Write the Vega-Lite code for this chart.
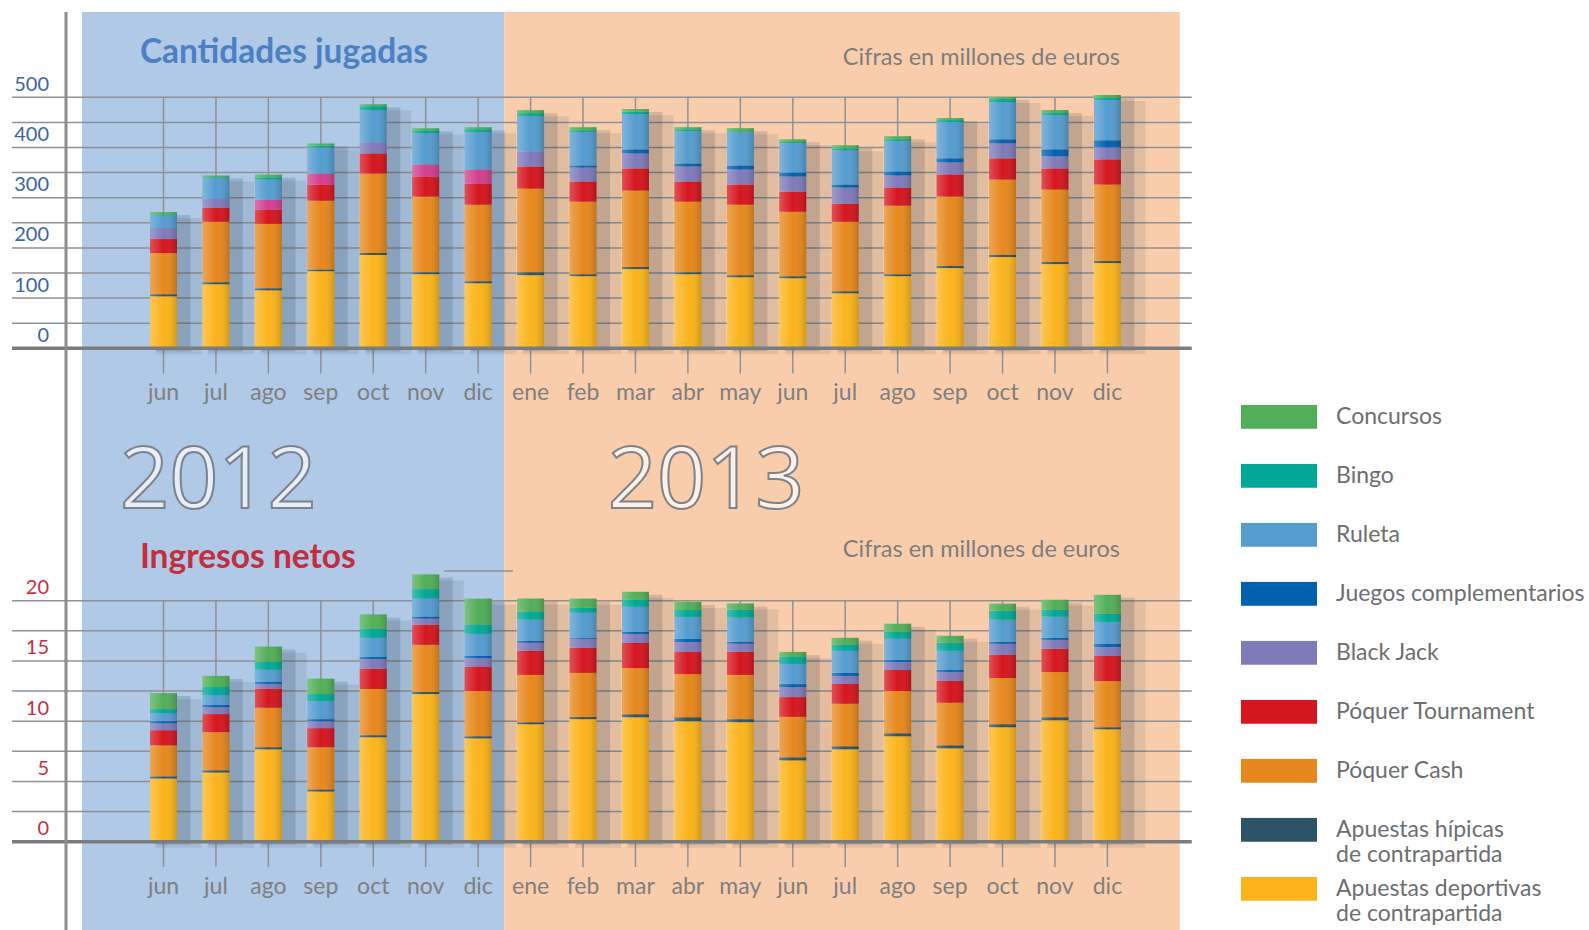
{
  "$schema": "https://vega.github.io/schema/vega-lite/v6.json",
  "width": 1589,
  "height": 930,
  "autosize": {"type": "none"},
  "padding": 0,
  "background": "white",
  "config": {"view": {"stroke": null}, "font": "Lato"},
  "datasets": {
    "series": [
      {"serie": "Apuestas deportivas de contrapartida", "orden": 1},
      {"serie": "Apuestas hípicas de contrapartida", "orden": 2},
      {"serie": "Póquer Cash", "orden": 3},
      {"serie": "Póquer Tournament", "orden": 4},
      {"serie": "Black Jack", "orden": 5},
      {"serie": "Otros", "orden": 6},
      {"serie": "Juegos complementarios", "orden": 7},
      {"serie": "Ruleta", "orden": 8},
      {"serie": "Bingo", "orden": 9},
      {"serie": "Concursos", "orden": 10}
    ],
    "jugadas": [
      {"i": 0, "mes": "jun", "Apuestas deportivas de contrapartida": 103.6, "Apuestas hípicas de contrapartida": 4, "Póquer Cash": 82, "Póquer Tournament": 28, "Black Jack": 22, "Otros": 0, "Juegos complementarios": 0, "Ruleta": 25, "Bingo": 2, "Concursos": 4.7},
      {"i": 1, "mes": "jul", "Apuestas deportivas de contrapartida": 127.7, "Apuestas hípicas de contrapartida": 4, "Póquer Cash": 120.3, "Póquer Tournament": 28, "Black Jack": 18, "Otros": 0, "Juegos complementarios": 0, "Ruleta": 40.8, "Bingo": 2, "Concursos": 3.3},
      {"i": 2, "mes": "ago", "Apuestas deportivas de contrapartida": 115.6, "Apuestas hípicas de contrapartida": 4, "Póquer Cash": 128.3, "Póquer Tournament": 28, "Black Jack": 0, "Otros": 20, "Juegos complementarios": 0, "Ruleta": 40, "Bingo": 4.7, "Concursos": 5.3},
      {"i": 3, "mes": "sep", "Apuestas deportivas de contrapartida": 153.7, "Apuestas hípicas de contrapartida": 3.3, "Póquer Cash": 137, "Póquer Tournament": 32, "Black Jack": 0, "Otros": 22, "Juegos complementarios": 0, "Ruleta": 52, "Bingo": 4, "Concursos": 4},
      {"i": 4, "mes": "oct", "Apuestas deportivas de contrapartida": 185.8, "Apuestas hípicas de contrapartida": 4, "Póquer Cash": 158.4, "Póquer Tournament": 40, "Black Jack": 22, "Otros": 0, "Juegos complementarios": 0, "Ruleta": 64, "Bingo": 8, "Concursos": 4},
      {"i": 5, "mes": "nov", "Apuestas deportivas de contrapartida": 147.7, "Apuestas hípicas de contrapartida": 4, "Póquer Cash": 150.4, "Póquer Tournament": 40, "Black Jack": 0, "Otros": 24, "Juegos complementarios": 0, "Ruleta": 62.2, "Bingo": 6, "Concursos": 4},
      {"i": 6, "mes": "dic", "Apuestas deportivas de contrapartida": 129.7, "Apuestas hípicas de contrapartida": 4, "Póquer Cash": 152.4, "Póquer Tournament": 42.1, "Black Jack": 0, "Otros": 28, "Juegos complementarios": 0, "Ruleta": 74.2, "Bingo": 6, "Concursos": 4},
      {"i": 7, "mes": "ene", "Apuestas deportivas de contrapartida": 145.7, "Apuestas hípicas de contrapartida": 6, "Póquer Cash": 166.4, "Póquer Tournament": 44.1, "Black Jack": 30, "Otros": 0, "Juegos complementarios": 0, "Ruleta": 70.2, "Bingo": 6, "Concursos": 6},
      {"i": 8, "mes": "feb", "Apuestas deportivas de contrapartida": 143.7, "Apuestas hípicas de contrapartida": 4, "Póquer Cash": 144.4, "Póquer Tournament": 40.1, "Black Jack": 28, "Otros": 0, "Juegos complementarios": 4, "Ruleta": 66.2, "Bingo": 4, "Concursos": 6},
      {"i": 9, "mes": "mar", "Apuestas deportivas de contrapartida": 157.8, "Apuestas hípicas de contrapartida": 4, "Póquer Cash": 152.4, "Póquer Tournament": 44.1, "Black Jack": 30, "Otros": 0, "Juegos complementarios": 8, "Ruleta": 70.2, "Bingo": 4.7, "Concursos": 5.3},
      {"i": 10, "mes": "abr", "Apuestas deportivas de contrapartida": 147.7, "Apuestas hípicas de contrapartida": 4, "Póquer Cash": 140.4, "Póquer Tournament": 40.1, "Black Jack": 30, "Otros": 0, "Juegos complementarios": 6, "Ruleta": 64.2, "Bingo": 4, "Concursos": 4},
      {"i": 11, "mes": "may", "Apuestas deportivas de contrapartida": 141.7, "Apuestas hípicas de contrapartida": 4, "Póquer Cash": 140.4, "Póquer Tournament": 40.1, "Black Jack": 30, "Otros": 0, "Juegos complementarios": 8, "Ruleta": 66.2, "Bingo": 2, "Concursos": 6},
      {"i": 12, "mes": "jun", "Apuestas deportivas de contrapartida": 139.7, "Apuestas hípicas de contrapartida": 4, "Póquer Cash": 128.3, "Póquer Tournament": 40.1, "Black Jack": 30, "Otros": 0, "Juegos complementarios": 8, "Ruleta": 58.2, "Bingo": 2.7, "Concursos": 5.3},
      {"i": 13, "mes": "jul", "Apuestas deportivas de contrapartida": 109.6, "Apuestas hípicas de contrapartida": 4, "Póquer Cash": 138.4, "Póquer Tournament": 36.1, "Black Jack": 32.1, "Otros": 0, "Juegos complementarios": 6, "Ruleta": 68.2, "Bingo": 4, "Concursos": 6},
      {"i": 14, "mes": "ago", "Apuestas deportivas de contrapartida": 143.7, "Apuestas hípicas de contrapartida": 4, "Póquer Cash": 136.4, "Póquer Tournament": 36.1, "Black Jack": 24.1, "Otros": 0, "Juegos complementarios": 8, "Ruleta": 60.2, "Bingo": 4, "Concursos": 6},
      {"i": 15, "mes": "sep", "Apuestas deportivas de contrapartida": 159.8, "Apuestas hípicas de contrapartida": 4, "Póquer Cash": 138.4, "Póquer Tournament": 44.1, "Black Jack": 24.1, "Otros": 0, "Juegos complementarios": 8, "Ruleta": 72.2, "Bingo": 4, "Concursos": 4},
      {"i": 16, "mes": "oct", "Apuestas deportivas de contrapartida": 181.8, "Apuestas hípicas de contrapartida": 4, "Póquer Cash": 150.4, "Póquer Tournament": 42.1, "Black Jack": 30, "Otros": 0, "Juegos complementarios": 8, "Ruleta": 74.2, "Bingo": 6, "Concursos": 4},
      {"i": 17, "mes": "nov", "Apuestas deportivas de contrapartida": 167.8, "Apuestas hípicas de contrapartida": 4, "Póquer Cash": 144.4, "Póquer Tournament": 42.1, "Black Jack": 24.1, "Otros": 0, "Juegos complementarios": 14, "Ruleta": 68.2, "Bingo": 4, "Concursos": 6},
      {"i": 18, "mes": "dic", "Apuestas deportivas de contrapartida": 169.8, "Apuestas hípicas de contrapartida": 4, "Póquer Cash": 152.4, "Póquer Tournament": 50.1, "Black Jack": 24.1, "Otros": 0, "Juegos complementarios": 14, "Ruleta": 80.2, "Bingo": 4, "Concursos": 6}
    ],
    "ingresos": [
      {"i": 0, "mes": "jun", "Apuestas deportivas de contrapartida": 5.25, "Apuestas hípicas de contrapartida": 0.17, "Póquer Cash": 2.58, "Póquer Tournament": 1.25, "Black Jack": 0.58, "Juegos complementarios": 0.17, "Ruleta": 0.67, "Bingo": 0.33, "Concursos": 1.33},
      {"i": 1, "mes": "jul", "Apuestas deportivas de contrapartida": 5.75, "Apuestas hípicas de contrapartida": 0.17, "Póquer Cash": 3.17, "Póquer Tournament": 1.5, "Black Jack": 0.58, "Juegos complementarios": 0.17, "Ruleta": 0.83, "Bingo": 0.67, "Concursos": 0.92},
      {"i": 2, "mes": "ago", "Apuestas deportivas de contrapartida": 7.67, "Apuestas hípicas de contrapartida": 0.17, "Póquer Cash": 3.28, "Póquer Tournament": 1.56, "Black Jack": 0.42, "Juegos complementarios": 0.17, "Ruleta": 1.0, "Bingo": 0.67, "Concursos": 1.25},
      {"i": 3, "mes": "sep", "Apuestas deportivas de contrapartida": 4.17, "Apuestas hípicas de contrapartida": 0.17, "Póquer Cash": 3.5, "Póquer Tournament": 1.58, "Black Jack": 0.58, "Juegos complementarios": 0.17, "Ruleta": 1.5, "Bingo": 0.58, "Concursos": 1.28},
      {"i": 4, "mes": "oct", "Apuestas deportivas de contrapartida": 8.67, "Apuestas hípicas de contrapartida": 0.17, "Póquer Cash": 3.83, "Póquer Tournament": 1.67, "Black Jack": 0.83, "Juegos complementarios": 0.17, "Ruleta": 1.58, "Bingo": 0.75, "Concursos": 1.19},
      {"i": 5, "mes": "nov", "Apuestas deportivas de contrapartida": 12.25, "Apuestas hípicas de contrapartida": 0.17, "Póquer Cash": 3.92, "Póquer Tournament": 1.67, "Black Jack": 0.5, "Juegos complementarios": 0.17, "Ruleta": 1.5, "Bingo": 0.78, "Concursos": 1.22},
      {"i": 6, "mes": "dic", "Apuestas deportivas de contrapartida": 8.58, "Apuestas hípicas de contrapartida": 0.17, "Póquer Cash": 3.75, "Póquer Tournament": 2.03, "Black Jack": 0.72, "Juegos complementarios": 0.17, "Ruleta": 1.83, "Bingo": 0.75, "Concursos": 2.17},
      {"i": 7, "mes": "ene", "Apuestas deportivas de contrapartida": 9.75, "Apuestas hípicas de contrapartida": 0.17, "Póquer Cash": 3.92, "Póquer Tournament": 2.0, "Black Jack": 0.67, "Juegos complementarios": 0.17, "Ruleta": 1.75, "Bingo": 0.67, "Concursos": 1.08},
      {"i": 8, "mes": "feb", "Apuestas deportivas de contrapartida": 10.17, "Apuestas hípicas de contrapartida": 0.17, "Póquer Cash": 3.67, "Póquer Tournament": 2.08, "Black Jack": 0.75, "Juegos complementarios": 0.08, "Ruleta": 2.08, "Bingo": 0.42, "Concursos": 0.75},
      {"i": 9, "mes": "mar", "Apuestas deportivas de contrapartida": 10.33, "Apuestas hípicas de contrapartida": 0.25, "Póquer Cash": 3.83, "Póquer Tournament": 2.08, "Black Jack": 0.75, "Juegos complementarios": 0.17, "Ruleta": 2.08, "Bingo": 0.58, "Concursos": 0.67},
      {"i": 10, "mes": "abr", "Apuestas deportivas de contrapartida": 10.0, "Apuestas hípicas de contrapartida": 0.33, "Póquer Cash": 3.58, "Póquer Tournament": 1.83, "Black Jack": 0.83, "Juegos complementarios": 0.25, "Ruleta": 1.83, "Bingo": 0.58, "Concursos": 0.67},
      {"i": 11, "mes": "may", "Apuestas deportivas de contrapartida": 9.92, "Apuestas hípicas de contrapartida": 0.25, "Póquer Cash": 3.67, "Póquer Tournament": 1.92, "Black Jack": 0.67, "Juegos complementarios": 0.17, "Ruleta": 2.0, "Bingo": 0.67, "Concursos": 0.5},
      {"i": 12, "mes": "jun", "Apuestas deportivas de contrapartida": 6.75, "Apuestas hípicas de contrapartida": 0.25, "Póquer Cash": 3.36, "Póquer Tournament": 1.64, "Black Jack": 0.83, "Juegos complementarios": 0.25, "Ruleta": 1.67, "Bingo": 0.58, "Concursos": 0.42},
      {"i": 13, "mes": "jul", "Apuestas deportivas de contrapartida": 7.67, "Apuestas hípicas de contrapartida": 0.25, "Póquer Cash": 3.53, "Póquer Tournament": 1.64, "Black Jack": 0.67, "Juegos complementarios": 0.25, "Ruleta": 1.83, "Bingo": 0.5, "Concursos": 0.58},
      {"i": 14, "mes": "ago", "Apuestas deportivas de contrapartida": 8.75, "Apuestas hípicas de contrapartida": 0.25, "Póquer Cash": 3.5, "Póquer Tournament": 1.75, "Black Jack": 0.67, "Juegos complementarios": 0.17, "Ruleta": 1.75, "Bingo": 0.58, "Concursos": 0.67},
      {"i": 15, "mes": "sep", "Apuestas deportivas de contrapartida": 7.75, "Apuestas hípicas de contrapartida": 0.25, "Póquer Cash": 3.53, "Póquer Tournament": 1.81, "Black Jack": 0.75, "Juegos complementarios": 0.17, "Ruleta": 1.58, "Bingo": 0.67, "Concursos": 0.58},
      {"i": 16, "mes": "oct", "Apuestas deportivas de contrapartida": 9.5, "Apuestas hípicas de contrapartida": 0.25, "Póquer Cash": 3.83, "Póquer Tournament": 1.92, "Black Jack": 0.92, "Juegos complementarios": 0.17, "Ruleta": 1.83, "Bingo": 0.75, "Concursos": 0.58},
      {"i": 17, "mes": "nov", "Apuestas deportivas de contrapartida": 10.08, "Apuestas hípicas de contrapartida": 0.25, "Póquer Cash": 3.75, "Póquer Tournament": 1.92, "Black Jack": 0.75, "Juegos complementarios": 0.17, "Ruleta": 1.75, "Bingo": 0.58, "Concursos": 0.83},
      {"i": 18, "mes": "dic", "Apuestas deportivas de contrapartida": 9.33, "Apuestas hípicas de contrapartida": 0.17, "Póquer Cash": 3.83, "Póquer Tournament": 2.08, "Black Jack": 0.75, "Juegos complementarios": 0.25, "Ruleta": 1.83, "Bingo": 0.67, "Concursos": 1.58}
    ],
    "gridSup": [{"v": 50}, {"v": 100}, {"v": 150}, {"v": 200}, {"v": 250}, {"v": 300}, {"v": 350}, {"v": 400}, {"v": 450}, {"v": 500}],
    "etiqSup": [{"v": 0}, {"v": 100}, {"v": 200}, {"v": 300}, {"v": 400}, {"v": 500}],
    "gridInf": [{"v": 2.5}, {"v": 5}, {"v": 7.5}, {"v": 10}, {"v": 12.5}, {"v": 15}, {"v": 17.5}, {"v": 20}],
    "etiqInf": [{"v": 0}, {"v": 5}, {"v": 10}, {"v": 15}, {"v": 20}]
  },
  "resolve": {"scale": {"y": "independent"}},
  "layer": [
    {
      "layer": [
        {
          "data": {"values": [{}]},
          "mark": {"type": "rect", "color": "#afc9e7"},
          "encoding": {
            "x": {"datum": -1.555, "type": "quantitative", "scale": {"domain": [-3.1178, 27.1834], "nice": false, "zero": false, "padding": 0}, "axis": null},
            "x2": {"datum": 6.5},
            "y": {"datum": 669.9, "type": "quantitative", "scale": {"domain": [-1158.76, 693.82], "nice": false, "zero": false}, "axis": null},
            "y2": {"datum": -1158.76}
          }
        },
        {
          "data": {"values": [{}]},
          "mark": {"type": "rect", "color": "#f9cdac"},
          "encoding": {
            "x": {"datum": 6.5, "type": "quantitative", "scale": {"domain": [-3.1178, 27.1834], "nice": false, "zero": false, "padding": 0}, "axis": null},
            "x2": {"datum": 19.38},
            "y": {"datum": 669.9, "type": "quantitative", "scale": {"domain": [-1158.76, 693.82], "nice": false, "zero": false}, "axis": null},
            "y2": {"datum": -1158.76}
          }
        },
        {
          "data": {"name": "gridSup"},
          "mark": {"type": "rule", "color": "#8e9196", "strokeWidth": 1.5},
          "encoding": {
            "x": {"datum": -2.889, "type": "quantitative", "scale": {"domain": [-3.1178, 27.1834], "nice": false, "zero": false, "padding": 0}, "axis": null},
            "x2": {"datum": 19.608},
            "y": {"field": "v", "type": "quantitative", "scale": {"domain": [-1158.76, 693.82], "nice": false, "zero": false}, "axis": null}
          }
        },
        {
          "data": {"name": "jugadas"},
          "mark": {"type": "rule", "color": "#8e9196", "strokeWidth": 1.5},
          "encoding": {
            "x": {"field": "i", "type": "quantitative", "scale": {"domain": [-3.1178, 27.1834], "nice": false, "zero": false, "padding": 0}, "axis": null},
            "y": {"datum": 500, "type": "quantitative", "scale": {"domain": [-1158.76, 693.82], "nice": false, "zero": false}, "axis": null},
            "y2": {"datum": -50}
          }
        },
        {
          "data": {"name": "jugadas"},
          "transform": [
            {"fold": ["Apuestas deportivas de contrapartida", "Apuestas hípicas de contrapartida", "Póquer Cash", "Póquer Tournament", "Black Jack", "Otros", "Juegos complementarios", "Ruleta", "Bingo", "Concursos"], "as": ["serie", "v"]},
            {"lookup": "serie", "from": {"data": {"name": "series"}, "key": "serie", "fields": ["orden"]}}
          ],
          "layer": [
            {
              "mark": {"type": "bar", "orient": "vertical", "size": 46, "xOffset": 15, "yOffset": 6, "color": "#1f2d3d", "opacity": 0.1},
              "encoding": {
                "x": {"field": "i", "type": "quantitative", "scale": {"domain": [-3.1178, 27.1834], "nice": false, "zero": false, "padding": 0}, "axis": null},
                "y": {"field": "v", "type": "quantitative", "stack": "zero", "scale": {"domain": [-1158.76, 693.82], "nice": false, "zero": false}, "axis": null},
                "detail": {"field": "serie"},
                "order": {"field": "orden", "type": "quantitative", "sort": "ascending"}
              }
            },
            {
              "mark": {"type": "bar", "orient": "vertical", "size": 34, "xOffset": 10, "yOffset": 3, "color": "#1f2d3d", "opacity": 0.16},
              "encoding": {
                "x": {"field": "i", "type": "quantitative", "scale": {"domain": [-3.1178, 27.1834], "nice": false, "zero": false, "padding": 0}, "axis": null},
                "y": {"field": "v", "type": "quantitative", "stack": "zero", "scale": {"domain": [-1158.76, 693.82], "nice": false, "zero": false}, "axis": null},
                "detail": {"field": "serie"},
                "order": {"field": "orden", "type": "quantitative", "sort": "ascending"}
              }
            },
            {
              "mark": {"type": "bar", "orient": "vertical", "size": 27},
              "encoding": {
                "x": {"field": "i", "type": "quantitative", "scale": {"domain": [-3.1178, 27.1834], "nice": false, "zero": false, "padding": 0}, "axis": null},
                "y": {"field": "v", "type": "quantitative", "stack": "zero", "scale": {"domain": [-1158.76, 693.82], "nice": false, "zero": false}, "axis": null},
                "color": {
                  "field": "serie", "type": "nominal",
                  "scale": {
                    "domain": ["Concursos", "Bingo", "Ruleta", "Juegos complementarios", "Black Jack", "Póquer Tournament", "Póquer Cash", "Apuestas hípicas de contrapartida", "Apuestas deportivas de contrapartida", "Otros"],
                    "range": ["#52ae58", "#00a895", "#559ccf", "#0062ae", "#7f7aba", "#d5161f", "#e6881d", "#2c5466", "#fbb41c", "#d1408f"]
                  },
                  "legend": {
                    "orient": "none", "legendX": 1241, "legendY": 404.8, "title": null, "padding": 0,
                    "values": ["Concursos", "Bingo", "Ruleta", "Juegos complementarios", "Black Jack", "Póquer Tournament", "Póquer Cash", "Apuestas hípicas de contrapartida", "Apuestas deportivas de contrapartida"],
                    "symbolType": "M-1,-0.3158H1V0.3158H-1Z", "symbolSize": 5776, "symbolStrokeWidth": 0, "symbolOpacity": 1,
                    "clipHeight": 24, "rowPadding": 10,
                    "labelFont": "Lato", "labelFontSize": 23, "labelColor": "#6d6e71", "labelOffset": 19, "labelLimit": 400, "labelBaseline": "middle",
                    "labelExpr": "datum.label === 'Apuestas hípicas de contrapartida' ? ['Apuestas hípicas', 'de contrapartida'] : datum.label === 'Apuestas deportivas de contrapartida' ? ['Apuestas deportivas', 'de contrapartida'] : [datum.label, ' ']"
                  }
                },
                "order": {"field": "orden", "type": "quantitative", "sort": "ascending"}
              }
            },
            {
              "mark": {"type": "bar", "orient": "vertical", "size": 27, "color": {"gradient": "linear", "x1": 0, "x2": 1, "y1": 0, "y2": 0, "stops": [{"offset": 0, "color": "rgba(255,255,255,0.25)"}, {"offset": 0.5, "color": "rgba(255,255,255,0)"}, {"offset": 1, "color": "rgba(0,0,0,0.16)"}]}},
              "encoding": {
                "x": {"field": "i", "type": "quantitative", "scale": {"domain": [-3.1178, 27.1834], "nice": false, "zero": false, "padding": 0}, "axis": null},
                "y": {"field": "v", "type": "quantitative", "stack": "zero", "scale": {"domain": [-1158.76, 693.82], "nice": false, "zero": false}, "axis": null},
                "detail": {"field": "serie"},
                "order": {"field": "orden", "type": "quantitative", "sort": "ascending"}
              }
            }
          ]
        },
        {
          "data": {"values": [{}]},
          "mark": {"type": "rule", "color": "#7b7c7e", "strokeWidth": 3.5},
          "encoding": {
            "x": {"datum": -2.889, "type": "quantitative", "scale": {"domain": [-3.1178, 27.1834], "nice": false, "zero": false, "padding": 0}, "axis": null},
            "x2": {"datum": 19.608},
            "y": {"datum": 0, "type": "quantitative", "scale": {"domain": [-1158.76, 693.82], "nice": false, "zero": false}, "axis": null}
          }
        },
        {
          "data": {"name": "etiqSup"},
          "mark": {"type": "text", "align": "right", "baseline": "middle", "dy": -12.5, "fontSize": 20, "color": "#3c63a9"},
          "encoding": {
            "x": {"datum": -2.183, "type": "quantitative", "scale": {"domain": [-3.1178, 27.1834], "nice": false, "zero": false, "padding": 0}, "axis": null},
            "y": {"field": "v", "type": "quantitative", "scale": {"domain": [-1158.76, 693.82], "nice": false, "zero": false}, "axis": null},
            "text": {"field": "v", "type": "quantitative"}
          }
        },
        {
          "data": {"name": "jugadas"},
          "mark": {"type": "text", "align": "center", "baseline": "middle", "fontSize": 23, "color": "#7f7f7f"},
          "encoding": {
            "x": {"field": "i", "type": "quantitative", "scale": {"domain": [-3.1178, 27.1834], "nice": false, "zero": false, "padding": 0}, "axis": null},
            "y": {"datum": -89, "type": "quantitative", "scale": {"domain": [-1158.76, 693.82], "nice": false, "zero": false}, "axis": null},
            "text": {"field": "mes"}
          }
        },
        {
          "data": {"values": [{}]},
          "mark": {"type": "text", "align": "left", "baseline": "alphabetic", "fontSize": 33.5, "fontWeight": "bold", "color": "#4d80c3", "text": "Cantidades jugadas"},
          "encoding": {
            "x": {"datum": -0.45, "type": "quantitative", "scale": {"domain": [-3.1178, 27.1834], "nice": false, "zero": false, "padding": 0}, "axis": null},
            "y": {"datum": 568.3, "type": "quantitative", "scale": {"domain": [-1158.76, 693.82], "nice": false, "zero": false}, "axis": null}
          }
        },
        {
          "data": {"values": [{}]},
          "mark": {"type": "text", "align": "right", "baseline": "middle", "fontSize": 23.5, "color": "#7d7d7d", "text": "Cifras en millones de euros"},
          "encoding": {
            "x": {"datum": 18.239, "type": "quantitative", "scale": {"domain": [-3.1178, 27.1834], "nice": false, "zero": false, "padding": 0}, "axis": null},
            "y": {"datum": 578.3, "type": "quantitative", "scale": {"domain": [-1158.76, 693.82], "nice": false, "zero": false}, "axis": null}
          }
        },
        {
          "data": {"values": [{"t": "2012", "p": -0.8295, "c": "#e7eef8"}, {"t": "2013", "p": 8.4734, "c": "#fdf0e6"}]},
          "mark": {"type": "text", "align": "left", "baseline": "alphabetic", "font": "Open Sans", "fontSize": 86, "stroke": "#7d838c", "strokeWidth": 2},
          "encoding": {
            "x": {"field": "p", "type": "quantitative", "scale": {"domain": [-3.1178, 27.1834], "nice": false, "zero": false, "padding": 0}, "axis": null},
            "y": {"datum": -318.1, "type": "quantitative", "scale": {"domain": [-1158.76, 693.82], "nice": false, "zero": false}, "axis": null},
            "text": {"field": "t"},
            "fill": {"field": "c", "type": "nominal", "scale": null}
          }
        }
      ]
    },
    {
      "layer": [
        {
          "data": {"name": "gridInf"},
          "mark": {"type": "rule", "color": "#8e9196", "strokeWidth": 1.5},
          "encoding": {
            "x": {"datum": -2.889, "type": "quantitative", "scale": {"domain": [-3.1178, 27.1834], "nice": false, "zero": false, "padding": 0}, "axis": null},
            "x2": {"datum": 19.608},
            "y": {"field": "v", "type": "quantitative", "scale": {"domain": [-7.328, 69.85], "nice": false, "zero": false}, "axis": null}
          }
        },
        {
          "data": {"name": "ingresos"},
          "mark": {"type": "rule", "color": "#8e9196", "strokeWidth": 1.5},
          "encoding": {
            "x": {"field": "i", "type": "quantitative", "scale": {"domain": [-3.1178, 27.1834], "nice": false, "zero": false, "padding": 0}, "axis": null},
            "y": {"datum": 20, "type": "quantitative", "scale": {"domain": [-7.328, 69.85], "nice": false, "zero": false}, "axis": null},
            "y2": {"datum": -2.09}
          }
        },
        {
          "data": {"name": "ingresos"},
          "transform": [
            {"fold": ["Apuestas deportivas de contrapartida", "Apuestas hípicas de contrapartida", "Póquer Cash", "Póquer Tournament", "Black Jack", "Juegos complementarios", "Ruleta", "Bingo", "Concursos"], "as": ["serie", "v"]},
            {"lookup": "serie", "from": {"data": {"name": "series"}, "key": "serie", "fields": ["orden"]}}
          ],
          "layer": [
            {
              "mark": {"type": "bar", "orient": "vertical", "size": 46, "xOffset": 15, "yOffset": 6, "color": "#1f2d3d", "opacity": 0.1},
              "encoding": {
                "x": {"field": "i", "type": "quantitative", "scale": {"domain": [-3.1178, 27.1834], "nice": false, "zero": false, "padding": 0}, "axis": null},
                "y": {"field": "v", "type": "quantitative", "stack": "zero", "scale": {"domain": [-7.328, 69.85], "nice": false, "zero": false}, "axis": null},
                "detail": {"field": "serie"},
                "order": {"field": "orden", "type": "quantitative", "sort": "ascending"}
              }
            },
            {
              "mark": {"type": "bar", "orient": "vertical", "size": 34, "xOffset": 10, "yOffset": 3, "color": "#1f2d3d", "opacity": 0.16},
              "encoding": {
                "x": {"field": "i", "type": "quantitative", "scale": {"domain": [-3.1178, 27.1834], "nice": false, "zero": false, "padding": 0}, "axis": null},
                "y": {"field": "v", "type": "quantitative", "stack": "zero", "scale": {"domain": [-7.328, 69.85], "nice": false, "zero": false}, "axis": null},
                "detail": {"field": "serie"},
                "order": {"field": "orden", "type": "quantitative", "sort": "ascending"}
              }
            },
            {
              "mark": {"type": "bar", "orient": "vertical", "size": 27},
              "encoding": {
                "x": {"field": "i", "type": "quantitative", "scale": {"domain": [-3.1178, 27.1834], "nice": false, "zero": false, "padding": 0}, "axis": null},
                "y": {"field": "v", "type": "quantitative", "stack": "zero", "scale": {"domain": [-7.328, 69.85], "nice": false, "zero": false}, "axis": null},
                "color": {
                  "field": "serie", "type": "nominal",
                  "scale": {
                    "domain": ["Concursos", "Bingo", "Ruleta", "Juegos complementarios", "Black Jack", "Póquer Tournament", "Póquer Cash", "Apuestas hípicas de contrapartida", "Apuestas deportivas de contrapartida", "Otros"],
                    "range": ["#52ae58", "#00a895", "#559ccf", "#0062ae", "#7f7aba", "#d5161f", "#e6881d", "#2c5466", "#fbb41c", "#d1408f"]
                  },
                  "legend": {
                    "orient": "none", "legendX": 1241, "legendY": 404.8, "title": null, "padding": 0,
                    "values": ["Concursos", "Bingo", "Ruleta", "Juegos complementarios", "Black Jack", "Póquer Tournament", "Póquer Cash", "Apuestas hípicas de contrapartida", "Apuestas deportivas de contrapartida"],
                    "symbolType": "M-1,-0.3158H1V0.3158H-1Z", "symbolSize": 5776, "symbolStrokeWidth": 0, "symbolOpacity": 1,
                    "clipHeight": 24, "rowPadding": 10,
                    "labelFont": "Lato", "labelFontSize": 23, "labelColor": "#6d6e71", "labelOffset": 19, "labelLimit": 400, "labelBaseline": "middle",
                    "labelExpr": "datum.label === 'Apuestas hípicas de contrapartida' ? ['Apuestas hípicas', 'de contrapartida'] : datum.label === 'Apuestas deportivas de contrapartida' ? ['Apuestas deportivas', 'de contrapartida'] : [datum.label, ' ']"
                  }
                },
                "order": {"field": "orden", "type": "quantitative", "sort": "ascending"}
              }
            },
            {
              "mark": {"type": "bar", "orient": "vertical", "size": 27, "color": {"gradient": "linear", "x1": 0, "x2": 1, "y1": 0, "y2": 0, "stops": [{"offset": 0, "color": "rgba(255,255,255,0.25)"}, {"offset": 0.5, "color": "rgba(255,255,255,0)"}, {"offset": 1, "color": "rgba(0,0,0,0.16)"}]}},
              "encoding": {
                "x": {"field": "i", "type": "quantitative", "scale": {"domain": [-3.1178, 27.1834], "nice": false, "zero": false, "padding": 0}, "axis": null},
                "y": {"field": "v", "type": "quantitative", "stack": "zero", "scale": {"domain": [-7.328, 69.85], "nice": false, "zero": false}, "axis": null},
                "detail": {"field": "serie"},
                "order": {"field": "orden", "type": "quantitative", "sort": "ascending"}
              }
            }
          ]
        },
        {
          "data": {"values": [{}]},
          "mark": {"type": "rule", "color": "#7b7c7e", "strokeWidth": 3.5},
          "encoding": {
            "x": {"datum": -2.889, "type": "quantitative", "scale": {"domain": [-3.1178, 27.1834], "nice": false, "zero": false, "padding": 0}, "axis": null},
            "x2": {"datum": 19.608},
            "y": {"datum": 0, "type": "quantitative", "scale": {"domain": [-7.328, 69.85], "nice": false, "zero": false}, "axis": null}
          }
        },
        {
          "data": {"values": [{}]},
          "mark": {"type": "rule", "color": "#8e9196", "strokeWidth": 1.5},
          "encoding": {
            "x": {"datum": 5.349, "type": "quantitative", "scale": {"domain": [-3.1178, 27.1834], "nice": false, "zero": false, "padding": 0}, "axis": null},
            "x2": {"datum": 6.665},
            "y": {"datum": 22.46, "type": "quantitative", "scale": {"domain": [-7.328, 69.85], "nice": false, "zero": false}, "axis": null}
          }
        },
        {
          "data": {"values": [{}]},
          "mark": {"type": "rule", "color": "#8c8d90", "strokeWidth": 3},
          "encoding": {
            "x": {"datum": -1.859, "type": "quantitative", "scale": {"domain": [-3.1178, 27.1834], "nice": false, "zero": false, "padding": 0}, "axis": null},
            "y": {"datum": 68.85, "type": "quantitative", "scale": {"domain": [-7.328, 69.85], "nice": false, "zero": false}, "axis": null},
            "y2": {"datum": -7.328}
          }
        },
        {
          "data": {"name": "etiqInf"},
          "mark": {"type": "text", "align": "right", "baseline": "middle", "dy": -12.5, "fontSize": 20, "color": "#c5303e"},
          "encoding": {
            "x": {"datum": -2.183, "type": "quantitative", "scale": {"domain": [-3.1178, 27.1834], "nice": false, "zero": false, "padding": 0}, "axis": null},
            "y": {"field": "v", "type": "quantitative", "scale": {"domain": [-7.328, 69.85], "nice": false, "zero": false}, "axis": null},
            "text": {"field": "v", "type": "quantitative"}
          }
        },
        {
          "data": {"name": "ingresos"},
          "mark": {"type": "text", "align": "center", "baseline": "middle", "fontSize": 23, "color": "#7f7f7f"},
          "encoding": {
            "x": {"field": "i", "type": "quantitative", "scale": {"domain": [-3.1178, 27.1834], "nice": false, "zero": false, "padding": 0}, "axis": null},
            "y": {"datum": -3.76, "type": "quantitative", "scale": {"domain": [-7.328, 69.85], "nice": false, "zero": false}, "axis": null},
            "text": {"field": "mes"}
          }
        },
        {
          "data": {"values": [{}]},
          "mark": {"type": "text", "align": "left", "baseline": "alphabetic", "fontSize": 33.5, "fontWeight": "bold", "color": "#c22e3d", "text": "Ingresos netos"},
          "encoding": {
            "x": {"datum": -0.45, "type": "quantitative", "scale": {"domain": [-3.1178, 27.1834], "nice": false, "zero": false, "padding": 0}, "axis": null},
            "y": {"datum": 22.75, "type": "quantitative", "scale": {"domain": [-7.328, 69.85], "nice": false, "zero": false}, "axis": null}
          }
        },
        {
          "data": {"values": [{}]},
          "mark": {"type": "text", "align": "right", "baseline": "middle", "fontSize": 23.5, "color": "#7d7d7d", "text": "Cifras en millones de euros"},
          "encoding": {
            "x": {"datum": 18.239, "type": "quantitative", "scale": {"domain": [-3.1178, 27.1834], "nice": false, "zero": false, "padding": 0}, "axis": null},
            "y": {"datum": 24.21, "type": "quantitative", "scale": {"domain": [-7.328, 69.85], "nice": false, "zero": false}, "axis": null}
          }
        }
      ]
    }
  ]
}
